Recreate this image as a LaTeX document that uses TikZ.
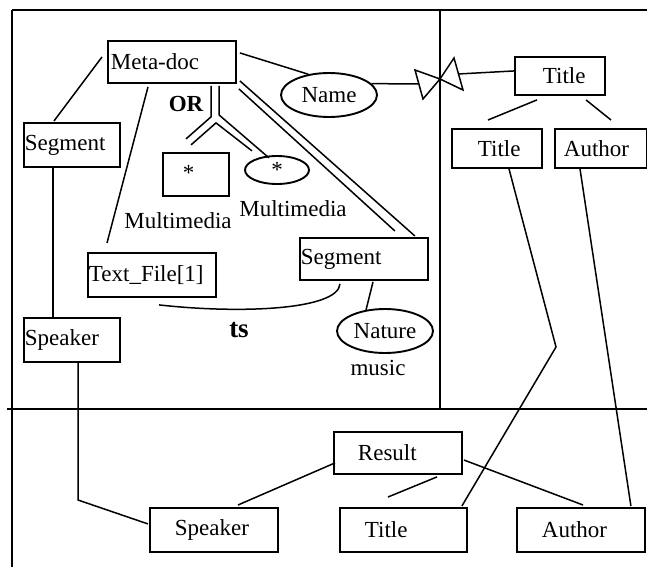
\documentclass[tikz,border=0pt]{standalone}
\usepackage{fontspec}
\setmainfont{Liberation Serif}
\usetikzlibrary{calc,shapes.geometric}
\begin{document}
\begin{tikzpicture}[x=1pt,y=-1pt,
 line width=1.5pt,
 every node/.style={font=\fontsize{23}{27}\selectfont, line width=1.9pt},
 bx/.style n args={2}{draw, rectangle, anchor=north west, inner sep=0pt, minimum width=#1, text width=#1, minimum height=#2, align=left},
 el/.style n args={2}{draw, ellipse, inner sep=0pt, minimum width=#1, minimum height=#2},
 lbl/.style={anchor=base, inner sep=0pt},
 frame/.style={line width=1.9pt}]
\useasboundingbox (0,0) rectangle (647,567);
% frame
\draw[frame] (12,10) -- (647,10);
\draw[frame] (12,10) -- (12,567);
\draw[frame] (440,10) -- (440,409);
\draw[frame] (7,409) -- (647,409);
% nodes
\node[bx={128pt}{42pt}] (metadoc) at (107,40) {\hspace*{3pt}Meta-doc};
\node[el={96pt}{44pt}] (name) at (329,95) {Name};
\node[bx={90pt}{38pt}] (ttop) at (514,56) {\hspace*{28pt}Title};
\node[bx={90pt}{39pt}] (ttitle) at (451,128) {\hspace*{26pt}Title};
\node[bx={92pt}{39pt}] (tauthor) at (554,128) {\hspace*{9pt}Author};
\node[bx={96pt}{44pt}] (segL) at (23,122) {\hspace*{1pt}Segment};
\node[bx={66pt}{43pt}, text height=20pt, text depth=7pt] (starbox) at (162,152) {\hspace*{20pt}*};
\node[el={64pt}{28pt}] (starell) at (277,170) {*};
\node[bx={128pt}{44pt}] (textfile) at (87,252) {\hspace*{1pt}Text\_File[1]};
\node[bx={128pt}{42pt}] (segR) at (299,237) {\hspace*{1pt}Segment};
\node[el={96pt}{44pt}] (nature) at (385,331) {Nature};
\node[bx={96pt}{44pt}] (speakL) at (23,317) {\hspace*{1pt}Speaker};
\node[bx={128pt}{42pt}] (result) at (333,431) {\hspace*{24pt}Result};
\node[bx={128pt}{44pt}] (speakB) at (149,507) {\hspace*{25pt}Speaker};
\node[bx={127pt}{44pt}] (titleB) at (339,507) {\hspace*{25pt}Title};
\node[bx={128pt}{44pt}] (authorB) at (516,507) {\hspace*{25pt}Author};
% labels
\node[lbl] (mm1) at (178,228) {Multimedia};
\node[lbl] (mm2) at (293,216) {Multimedia};
\node[lbl, font=\fontsize{23}{27}\selectfont\bfseries] (or) at (186,112) {OR};
\node[lbl, font=\fontsize{27}{31}\selectfont\bfseries] (ts) at (239,337) {ts};
\node[lbl] (music) at (378,375) {music};
% coordinates
\coordinate (bl) at (419,84);
\coordinate (br) at (458,74);
\coordinate (bend1) at (78,500);
\coordinate (bend2) at (556,347);
% bowtie
\draw (415,70) -- (423,99) -- (440,79) -- cycle;
\draw (440,79) -- (454,58) -- (463,90) -- cycle;
% connectors
\draw ($(metadoc.west)+(-5,-5)$) -- ($(segL.north west)+(31,-1)$);
\draw ($(segL.south west)+(30,0)$) -- ($(speakL.north west)+(30,0)$);
\draw ($(speakL.south west)+(55,0)$) -- (bend1) -- ($(speakB.west)+(-1,-6)$);
\draw ($(metadoc.south west)+(41,3)$) -- ($(textfile.north west)+(20,-9)$);
\draw ($(metadoc.south west)+(104,2)$) -- ++(0,31) -- ++(-25,22);
\draw ($(metadoc.south west)+(112,2)$) -- ++(0,29) -- ++(50,43);
\draw ($(metadoc.south west)+(84,61)$) -- ++(25,-22) -- ++(36,28);
\draw ($(metadoc.south east)+(3,-3)$) -- ($(segR.north east)+(-14,-1)$);
\draw ($(metadoc.south east)+(2,5)$) -- ($(segR.north east)+(-34,-6)$);
\draw ($(metadoc.east)+(3,-9)$) -- (name.135);
\draw (name.15) -- (bl);
\draw (br) -- ($(ttop.west)+(0,-5)$);
\draw ($(ttop.south west)+(23,4)$) -- ($(ttitle.north west)+(37,-8)$);
\draw ($(ttop.south west)+(72,4)$) -- ($(tauthor.north west)+(57,-8)$);
\draw ($(ttitle.south west)+(58,0)$) -- (bend2) -- ($(titleB.north east)+(-6,-1)$);
\draw ($(tauthor.south west)+(26,0)$) -- ($(authorB.north east)+(-15,-1)$);
\draw ($(textfile.south west)+(72,7)$) .. controls (240,314) and (338,310) .. ($(segR.south west)+(41,3)$);
\draw ($(segR.south west)+(74,1)$) -- ($(nature.north)+(-19,2)$);
\draw ($(result.south west)+(2,-12)$) -- ($(speakB.north west)+(89,-2)$);
\draw ($(result.south west)+(104,2)$) -- ($(titleB.north west)+(49,-10)$);
\draw ($(result.north east)+(1,29)$) -- ($(authorB.north west)+(67,-2)$);
\end{tikzpicture}
\end{document}
